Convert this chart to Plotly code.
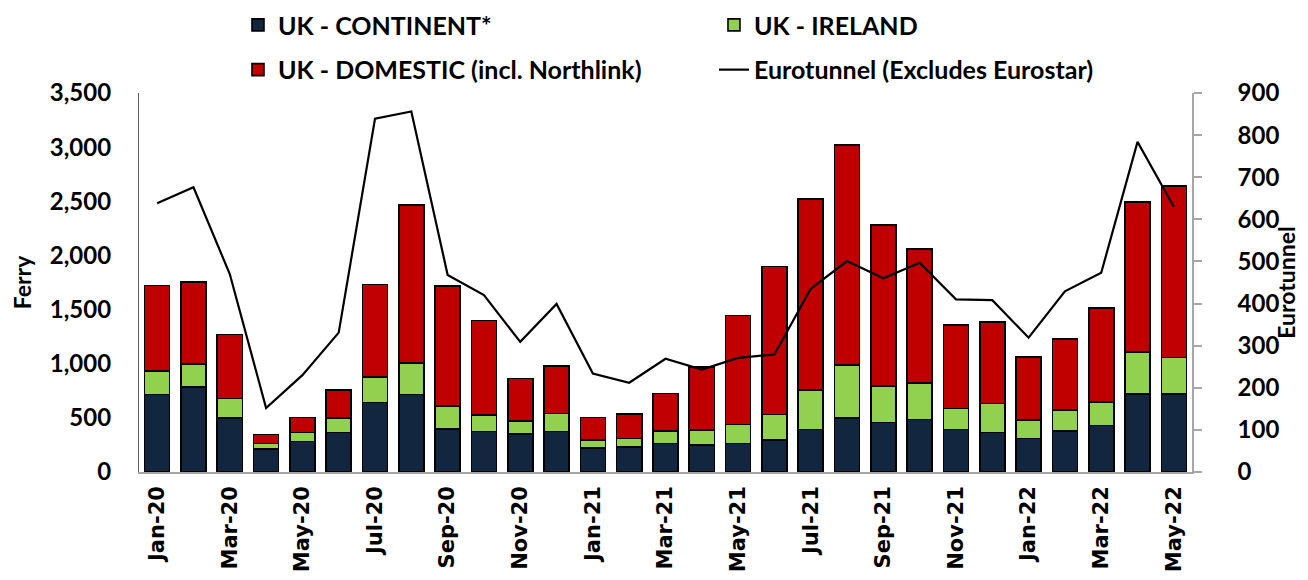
import plotly.graph_objects as go

months = ["Jan-20", "Feb-20", "Mar-20", "Apr-20", "May-20", "Jun-20", "Jul-20", "Aug-20",
          "Sep-20", "Oct-20", "Nov-20", "Dec-20", "Jan-21", "Feb-21", "Mar-21", "Apr-21",
          "May-21", "Jun-21", "Jul-21", "Aug-21", "Sep-21", "Oct-21", "Nov-21", "Dec-21",
          "Jan-22", "Feb-22", "Mar-22", "Apr-22", "May-22"]

uk_continent = [715, 783, 500, 210, 281, 364, 641, 715, 395, 373, 349, 373, 219, 231, 262, 247,
                262, 293, 392, 497, 456, 484, 392, 364, 308, 379, 429, 719, 719]
uk_ireland = [219, 213, 178, 52, 83, 133, 238, 290, 213, 154, 123, 167, 77, 77, 114, 139,
              176, 237, 364, 493, 337, 339, 194, 268, 170, 192, 219, 388, 339]
uk_domestic = [787, 756, 593, 83, 139, 259, 854, 1462, 1110, 873, 392, 438, 207, 229, 349, 585,
               1008, 1367, 1767, 2029, 1489, 1234, 774, 753, 586, 660, 869, 1385, 1585]
eurotunnel = [638, 676, 470, 152, 230, 331, 839, 856, 468, 420, 309, 399, 234, 212, 269, 243,
              271, 279, 435, 501, 460, 497, 410, 408, 319, 429, 473, 784, 630]

tick_labels = months[::2]

FONT = "Lato"
bar_line = dict(color="black", width=1.6)

fig = go.Figure()
fig.add_trace(go.Bar(x=months, y=uk_continent, name="UK - CONTINENT*",
                     marker=dict(color="#13263F", line=bar_line), legend="legend"))
fig.add_trace(go.Bar(x=months, y=uk_ireland, name="UK - IRELAND",
                     marker=dict(color="#92D050", line=bar_line), legend="legend"))
fig.add_trace(go.Bar(x=months, y=uk_domestic, name="UK - DOMESTIC (incl. Northlink)",
                     marker=dict(color="#C00000", line=bar_line), legend="legend2"))
fig.add_trace(go.Scatter(x=months, y=eurotunnel, name="Eurotunnel (Excludes Eurostar)",
                         mode="lines", line=dict(color="black", width=2.2),
                         yaxis="y2", legend="legend2"))

legend_font = dict(family=FONT, size=25, color="black", weight="bold")
legend_common = dict(orientation="h", x=0.094, xanchor="left", yanchor="middle",
                     entrywidth=431, entrywidthmode="pixels", font=legend_font,
                     bgcolor="rgba(0,0,0,0)", itemwidth=30, traceorder="normal")
fig.update_layout(
    width=1292, height=564,
    margin=dict(l=131, r=108, t=85, b=100, autoexpand=False),
    paper_bgcolor="white", plot_bgcolor="white",
    barmode="stack", bargap=0.31,
    font=dict(family=FONT, size=22, color="black", weight="bold"),
    legend=dict(y=1.179, **legend_common),
    legend2=dict(y=1.061, **legend_common),
    xaxis=dict(type="category", categoryorder="array", categoryarray=months,
               tickmode="array", tickvals=tick_labels, ticktext=tick_labels,
               tickangle=-90, ticks="", showline=True, linecolor="#A6A6A6", linewidth=1.5,
               tickfont=dict(family="DejaVu Sans", size=21, color="black", weight="bold"),
               ticklabelstandoff=4, showgrid=False, zeroline=False, automargin=False),
    yaxis=dict(range=[0, 3500], dtick=500, tickformat=",", showgrid=False, zeroline=False,
               showline=True, linecolor="#595959", linewidth=1.2, ticks="",
               tickfont=dict(family=FONT, size=24, color="black", weight="bold"),
               ticklabelstandoff=22, automargin=False,
               title=dict(text="Ferry", standoff=12,
                          font=dict(family=FONT, size=23, color="black", weight="bold"))),
    yaxis2=dict(range=[0, 900], dtick=100, overlaying="y", side="right", showgrid=False,
                zeroline=False, showline=True, linecolor="#A6A6A6", linewidth=1.5,
                ticks="outside", ticklen=8, tickcolor="#A6A6A6", tickwidth=1.5,
                tickfont=dict(family=FONT, size=24, color="black", weight="bold"),
                ticklabelstandoff=31, automargin=False,
                title=dict(text="Eurotunnel", standoff=2,
                           font=dict(family=FONT, size=23, color="black", weight="bold"))),
)

fig.write_html("out.html")
